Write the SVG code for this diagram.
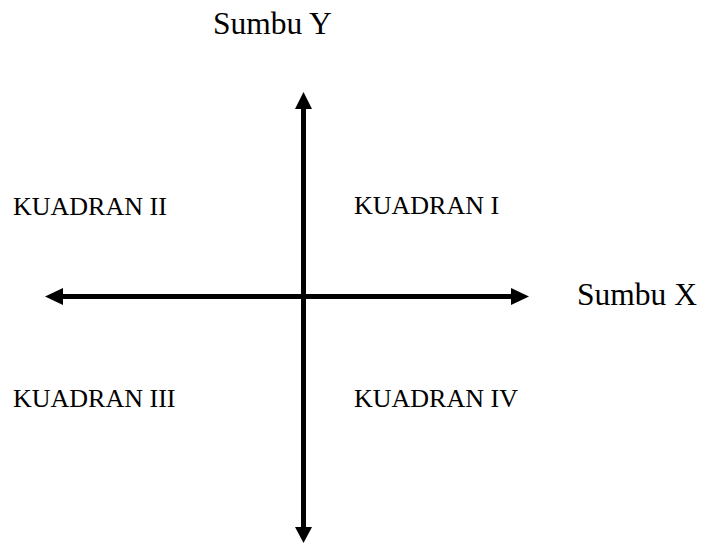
<svg xmlns="http://www.w3.org/2000/svg" width="701" height="543" viewBox="0 0 701 543">
<style>
text{font-family:"Liberation Serif","Times New Roman",serif;fill:#000}
.ax{font-size:31.5px}
.q{font-size:26px}
.line{stroke:#000;stroke-width:5;fill:none}
.head{fill:#000}
</style>
<rect width="701" height="543" fill="#fff"/>
<g id="connectors">
<line class="line" x1="303.5" y1="106" x2="303.5" y2="530"/>
<polygon class="head" points="303.5,92 295,109 312,109"/>
<polygon class="head" points="303.5,543 295,527 312,527"/>
<line class="line" x1="60" y1="296.5" x2="515" y2="296.5"/>
<polygon class="head" points="45,296.5 63,288 63,305"/>
<polygon class="head" points="529,296.5 511,288 511,305"/>
</g>
<g id="sumbu-y"><text class="ax" x="213" y="34">Sumbu Y</text></g>
<g id="sumbu-x"><text class="ax" x="577" y="305">Sumbu X</text></g>
<g id="kuadran-i"><text class="q" x="354" y="214">KUADRAN I</text></g>
<g id="kuadran-ii"><text class="q" x="13" y="215">KUADRAN II</text></g>
<g id="kuadran-iii"><text class="q" x="13" y="407">KUADRAN III</text></g>
<g id="kuadran-iv"><text class="q" x="354" y="407">KUADRAN IV</text></g>
</svg>
